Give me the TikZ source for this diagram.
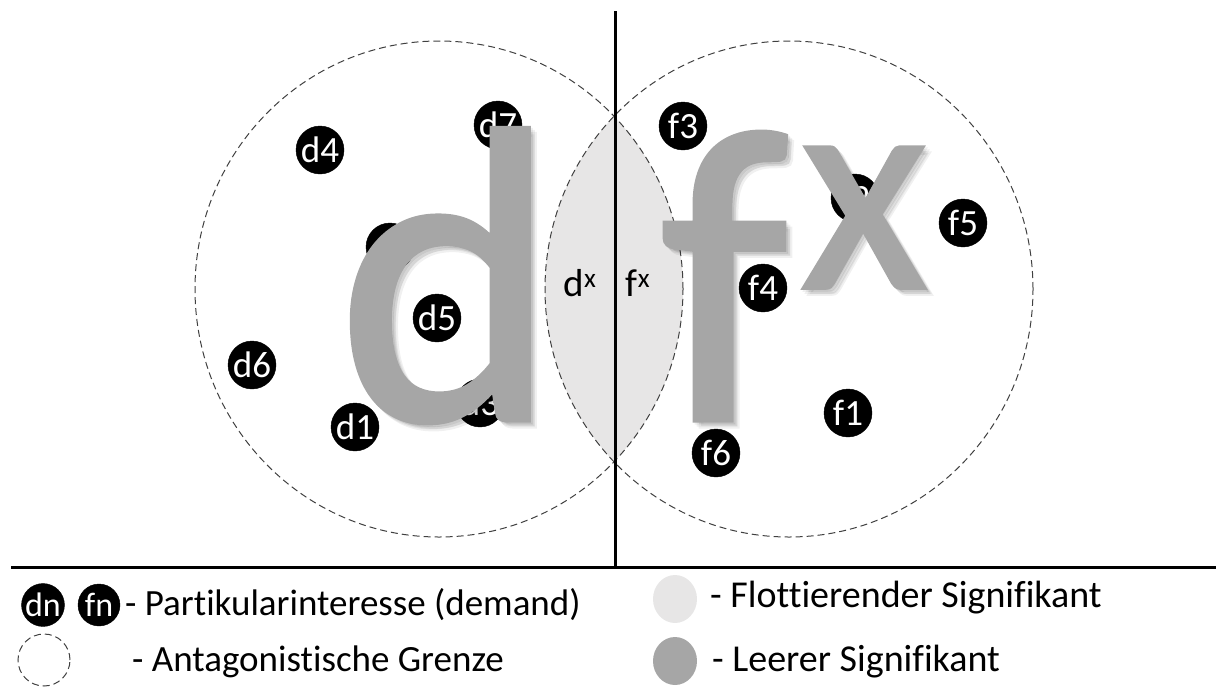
\documentclass[tikz,border=0pt]{standalone}
\usepackage{fontspec}
\setmainfont{Carlito}[Ligatures=NoCommon]
\newfontfamily\bigfont{Carlito}[FakeBold=1.2]
\usepackage{tikz}
\usetikzlibrary{positioning,shapes.geometric}
\definecolor{lensgray}{HTML}{E7E6E6}
\definecolor{biggray}{HTML}{A6A6A6}

\begin{document}
\begin{tikzpicture}[
x=1pt,y=-1pt,
dot/.style={
circle,
fill=black,
draw=black,
minimum size=48pt,
inner sep=0pt,
text=white,
font=\fontsize{37}{37}\selectfont
},
smalldot/.style={
dot,
minimum size=42pt,
font=\fontsize{34}{34}\selectfont
},
border/.style={
draw=black!75,
dash pattern=on 7pt off 4pt,
line width=1pt
},
bigletter/.style={
text=biggray,
inner sep=0pt
},
bigshadow/.style={
text=black,
text opacity=0.06,
inner sep=0pt
},
legendtext/.style={
anchor=west,
inner sep=0pt,
font=\fontsize{37}{37}\selectfont
},
thickline/.style={line width=3pt}
]

\useasboundingbox (0,0) rectangle (1216,686);

%---------------- Fields ----------------%

\coordinate (dc) at (439,289);
\coordinate (fc) at (789,289);

\begin{scope}
\clip (dc) ellipse [x radius=244pt, y radius=248pt];
\fill[lensgray] (fc) ellipse [x radius=244pt, y radius=248pt];
\end{scope}

\draw[border] (dc) ellipse [x radius=244pt, y radius=248pt];
\draw[border] (fc) ellipse [x radius=244pt, y radius=248pt];

\coordinate (vtop) at (615,11);
\coordinate (vbot) at (615,567);
\coordinate (hleft) at (11,567);
\coordinate (hright) at (1216,567);

\draw[thickline] (vtop)--(vbot);
\draw[thickline] (hleft)--(hright);

\node[font=\fontsize{39}{39}\selectfont] (dx) at (580,283) {d\textsuperscript{x}};
\node[font=\fontsize{39}{39}\selectfont] (fx) at (638,283) {f\textsuperscript{x}};

%---------------- Demands ----------------%

\node[dot] (d1) at (355,427) {d1};
\node[dot] (d2) at (390,247) {d2};
\node[dot] (d3) at (480,403) {d3};
\node[dot] (d4) at (320,150) {d4};
\node[dot] (d5) at (437,318) {d5};
\node[dot] (d6) at (252,365) {d6};
\node[dot] (d7) at (498,125) {d7};

\node[dot] (f1) at (848,413) {f1};
\node[dot] (f2) at (855,198) {f2};
\node[dot] (f3) at (683,126) {f3};
\node[dot] (f5) at (963,223) {f5};
\node[dot] (f6) at (716,453) {f6};

%---------------- Empty signifiers ----------------%

\foreach \o in {2,4,6}{
\node[bigshadow,anchor=base east,font=\bigfont\fontsize{420}{420}\selectfont] at (558+\o,420+\o) {d};
\node[bigshadow,anchor=base west,font=\bigfont\fontsize{420}{420}\selectfont] at (660+\o,420+\o) {f};
\node[bigshadow,anchor=base west,font=\bigfont\fontsize{295}{295}\selectfont] at (800+\o,288+\o) {x};
}

\node[bigletter,anchor=base east,font=\bigfont\fontsize{420}{420}\selectfont] (bigd) at (558,420) {d};
\node[bigletter,anchor=base west,font=\bigfont\fontsize{420}{420}\selectfont] (bigf) at (660,420) {f};
\node[bigletter,anchor=base west,font=\bigfont\fontsize{295}{295}\selectfont] (bigx) at (800,288) {x};

\node[dot] (f4) at (763,288) {f4};

%---------------- Legend ----------------%

\node[smalldot] (ldn) at (43,605) {dn};
\node[smalldot] (lfn) at (99,605) {fn};
\node[legendtext] (ldemand) at (125,605) {- Partikularinteresse (demand)};

\node[circle,border,minimum size=52pt] (lborder) at (44,660) {};
\node[legendtext] (lgrenze) at (132,662) {- Antagonistische Grenze};

\node[ellipse,fill=lensgray,minimum width=44pt,minimum height=48pt,inner sep=0pt] (lflot) at (675,599) {};
\node[legendtext,font=\fontsize{38}{38}\selectfont] (lflottext) at (710,598) {- Flottierender Signifikant};

\node[ellipse,fill=biggray,minimum width=44pt,minimum height=48pt,inner sep=0pt] (lleer) at (675,661) {};
\node[legendtext,font=\fontsize{38}{38}\selectfont] (lleertext) at (712,662) {- Leerer Signifikant};

\end{tikzpicture}
\end{document}
